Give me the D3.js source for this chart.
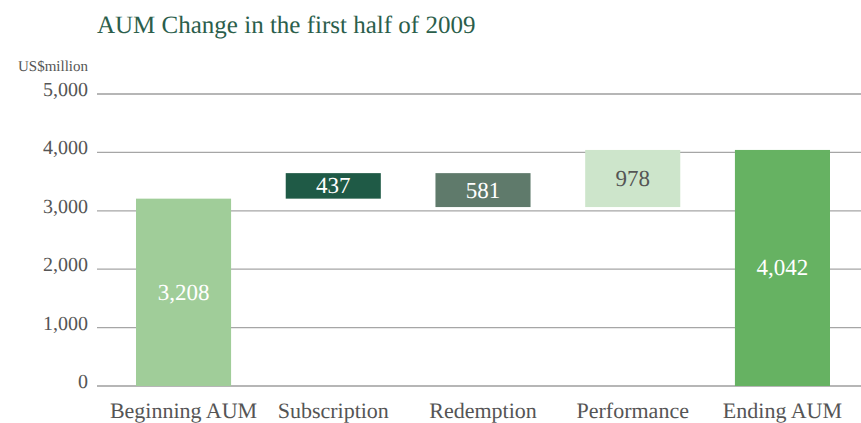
<!DOCTYPE html>
<html>
<head>
<meta charset="utf-8">
<script src="https://cdn.jsdelivr.net/npm/d3@7"></script>
<style>
    body { margin: 0; background: white; }
    svg text { text-rendering: geometricPrecision; }
</style>
</head>
<body>
<div id="chart"></div>
<script>
// Waterfall of AUM change, H1 2009
const categories = ['Beginning AUM', 'Subscription', 'Redemption', 'Performance', 'Ending AUM']
const amounts = [3208, 437, -581, 978, 4042]
const isTotal = [true, false, false, false, true]
const yTicks = [0, 1000, 2000, 3000, 4000, 5000]

const barColors = ['#a0cd99', '#1f5a46', '#5f7a6b', '#cde5cb', '#66b262']
const labelColors = ['white', 'white', 'white', '#555555', 'white']
const serif = 'Liberation Serif, serif'

function getTranslateString(x, y) {
    return 'translate(' + x + ', ' + y + ')'
}

class WaterfallChart {
    constructor(width, height, divElementName) {
        this.width = width
        this.height = height
        this.divElementName = divElementName
        this.initialize()
    }

    initialize = () => {
        this.buildSteps()
        this.svg = d3.select(this.divElementName).append('svg').attr('width', this.width).attr('height', this.height)
        this.xScale = d3.scaleBand().domain(categories).range([136, 830]).paddingInner(0.365).paddingOuter(0)
        this.yScale = d3.scaleLinear().domain([0, 5000]).range([386, 94])
        this.drawTitle()
        this.drawGridLines()
        this.drawBars()
        this.drawCategoryLabels()
    }

    buildSteps = () => {
        // each bar runs from lo to hi; totals start at zero, changes float on the running sum
        let running = 0
        this.steps = categories.map((c, i) => {
            let lo, hi
            if (isTotal[i]) {
                lo = 0
                hi = amounts[i]
                running = amounts[i]
            } else {
                lo = Math.min(running, running + amounts[i])
                hi = Math.max(running, running + amounts[i])
                running += amounts[i]
            }
            return {name: c, lo: lo, hi: hi, label: d3.format(',')(Math.abs(amounts[i])), i: i}
        })
    }

    createLabel = (parent, x, y, label, fontsize, color, anchor) => {
        return parent.append('text').attr('x', x).attr('y', y).text(label)
            .attr('font-family', serif).attr('font-size', fontsize)
            .attr('text-anchor', anchor || 'start').style('fill', color)
    }

    drawTitle = () => {
        this.createLabel(this.svg, 97, 33, 'AUM Change in the first half of 2009', 25, '#2b5e4b')
        this.createLabel(this.svg, 88, 71, 'US$million', 15, '#555', 'end')
    }

    drawGridLines = () => {
        let g = this.svg.append('g')
        for (let t of yTicks) {
            let y = this.yScale(t)
            g.append('line').attr('x1', 97).attr('x2', this.width).attr('y1', y).attr('y2', y)
                .style('stroke', (t === 0 || t === 5000) ? '#6e6e6e' : '#a6a6a6').style('stroke-width', 1.2)
            this.createLabel(g, 88, y + 2, d3.format(',')(t), 20, '#555', 'end')
        }
    }

    drawBars = () => {
        let bars = this.svg.append('g').selectAll('g').data(this.steps).join('g')
        bars.append('rect')
            .attr('x', d => this.xScale(d.name))
            .attr('y', d => this.yScale(d.hi))
            .attr('width', this.xScale.bandwidth())
            .attr('height', d => this.yScale(d.lo) - this.yScale(d.hi))
            .style('fill', d => barColors[d.i])
        bars.append('text')
            .attr('x', d => this.xScale(d.name) + this.xScale.bandwidth() / 2)
            .attr('y', d => (this.yScale(d.lo) + this.yScale(d.hi)) / 2)
            .attr('text-anchor', 'middle').attr('dominant-baseline', 'central')
            .attr('font-family', serif).attr('font-size', 23).style('fill', d => labelColors[d.i])
            .text(d => d.label)
    }

    drawCategoryLabels = () => {
        let g = this.svg.append('g')
        for (let c of categories) {
            this.createLabel(g, this.xScale(c) + this.xScale.bandwidth() / 2, 418, c, 22, '#555', 'middle')
        }
    }
}

new WaterfallChart(861, 423, '#chart')
</script>
</body>
</html>
